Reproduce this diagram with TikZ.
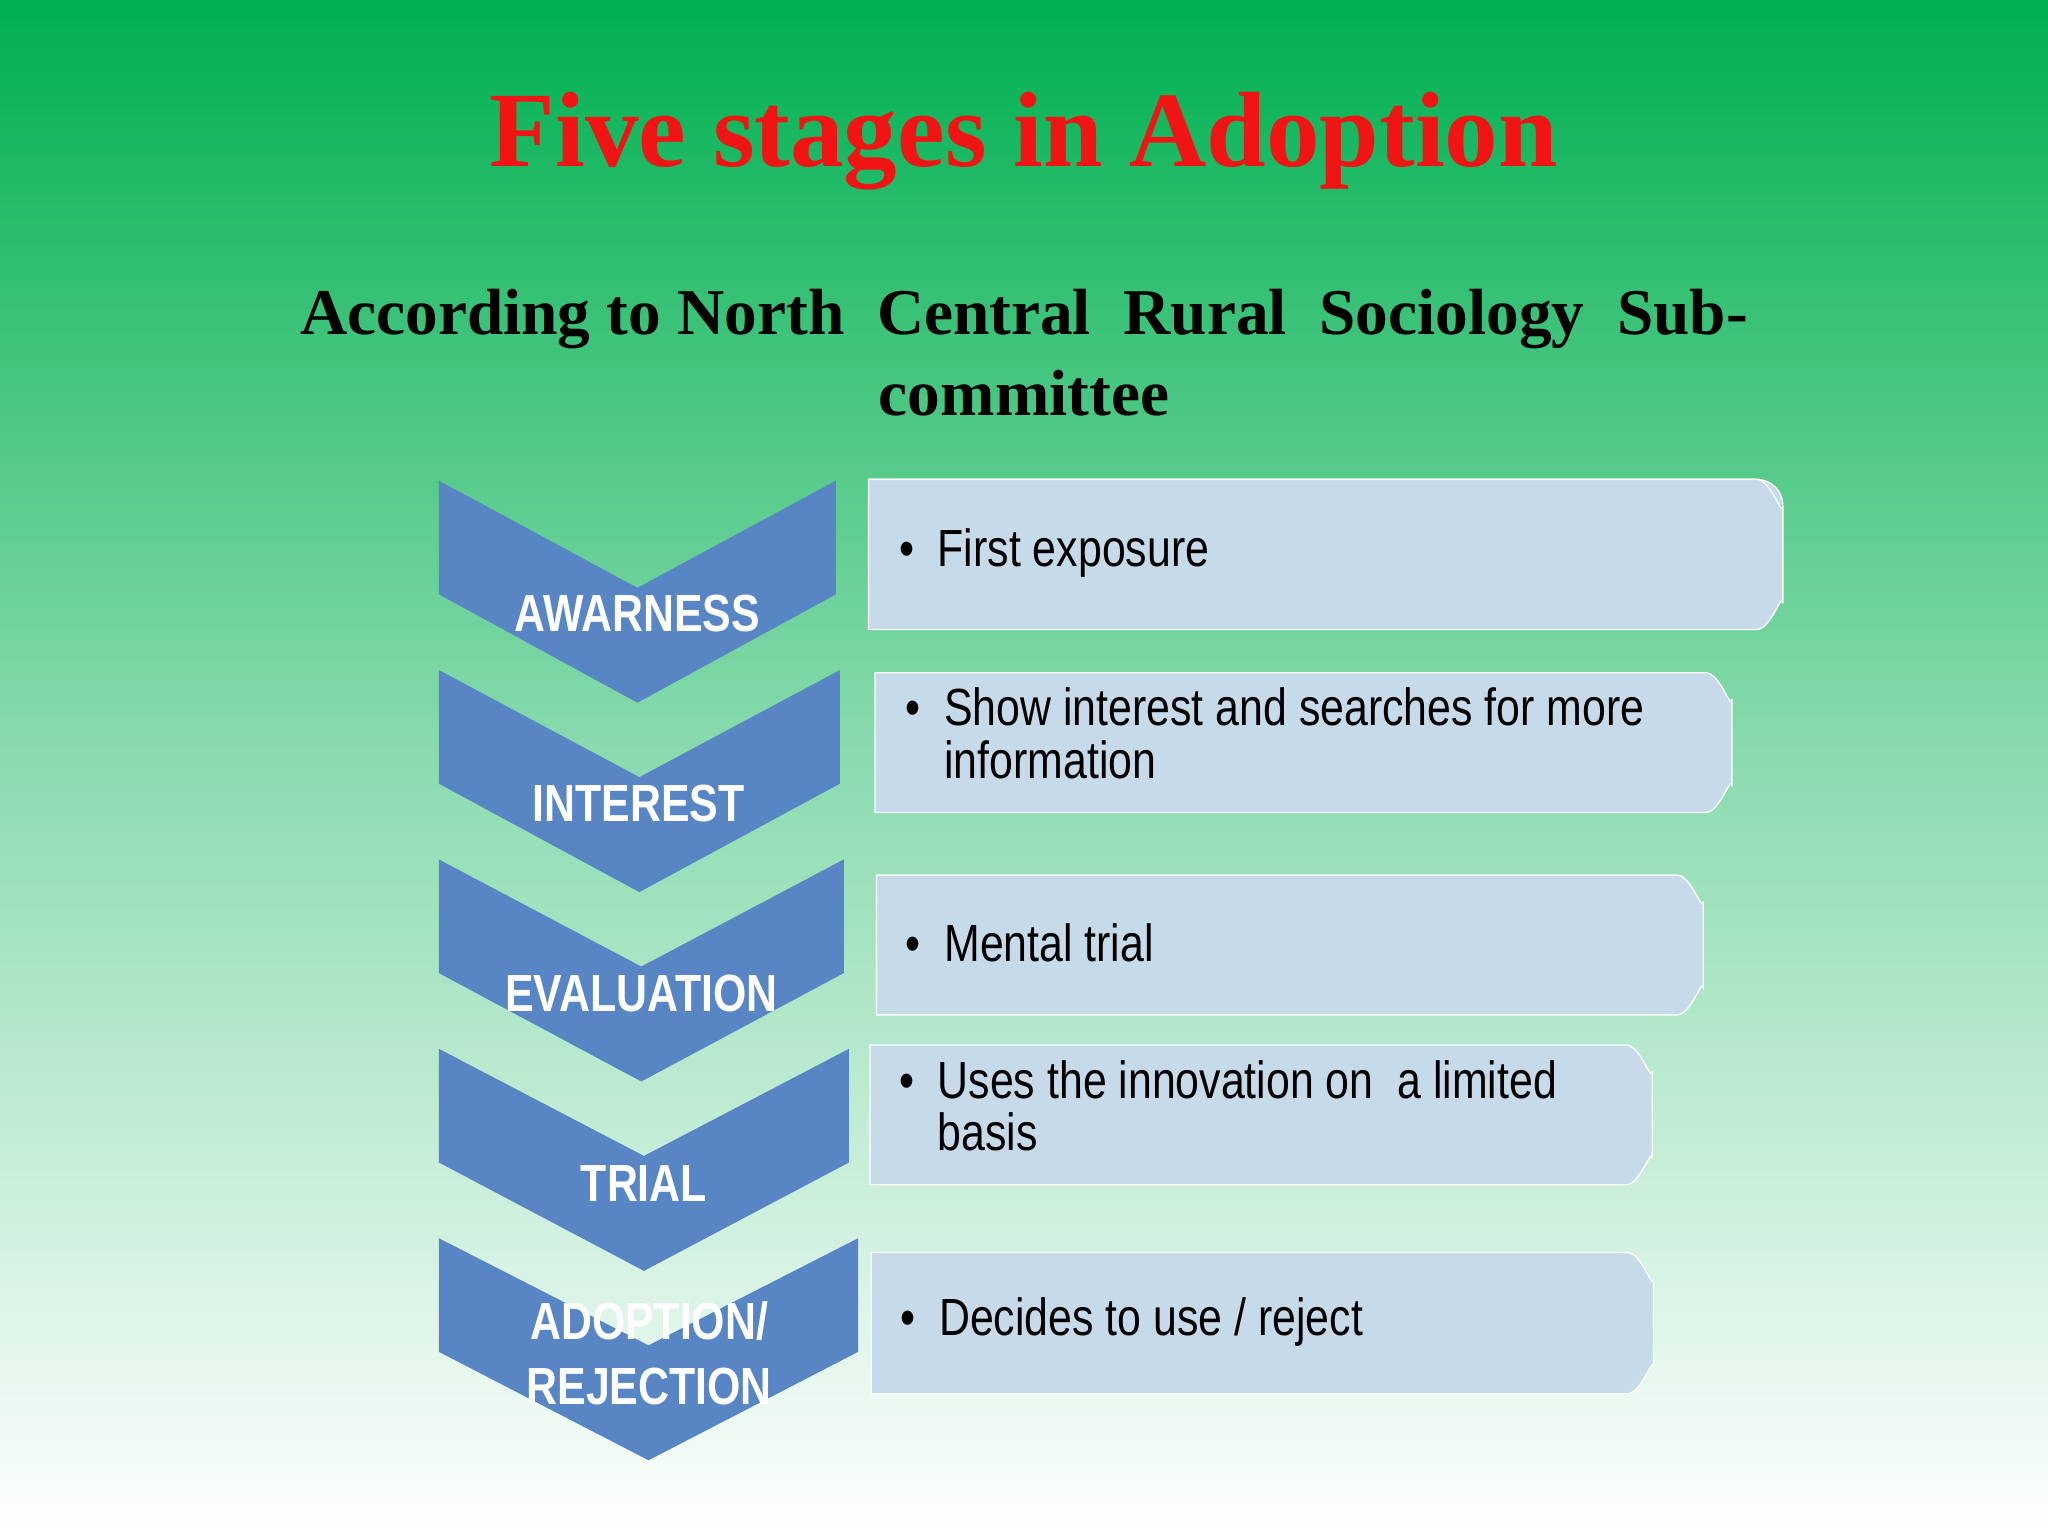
\documentclass[tikz,border=0pt]{standalone}
\usepackage{fontspec}
\setmainfont{Liberation Serif}
\newfontfamily\narrow[FakeStretch=0.82]{Liberation Sans}
\definecolor{chev}{RGB}{88,133,196}
\definecolor{boxc}{RGB}{198,218,234}
\definecolor{topg}{RGB}{0,176,80}
\definecolor{ttl}{RGB}{240,20,20}
\begin{document}
\begin{tikzpicture}[x=1pt,y=-1pt,
 chv/.style={fill=chev},
 bx/.style={fill=boxc,draw=white,line width=1pt},
 lab/.style={text=white,font=\narrow\bfseries\fontsize{40}{44}\selectfont},
 btx/.style={anchor=west,align=left,text=black,font=\narrow\fontsize{40}{44}\selectfont}]
\shade[top color=topg,bottom color=white,middle color=topg!45!white] (0,0) rectangle (1568,1176);
\useasboundingbox (0,0) rectangle (1568,1176);
\node[text=ttl,font=\bfseries\fontsize{82}{90}\selectfont] (t) at (784,108) {Five stages in Adoption};
\node[font=\bfseries\fontsize{50}{62}\selectfont,align=center] (s) at (784,270) {According to North\ \ Central\ \ Rural\ \ Sociology\ \ Sub-\\committee};
\foreach \i/\r in {0/640,1/643,2/646,3/650,4/657}{
 \pgfmathsetmacro\yy{368+145*\i}
 \pgfmathsetmacro\mx{(336+\r)/2}
 \fill[chv] (336,\yy) -- (\mx,\yy+82) -- (\r,\yy) -- (\r,\yy+87) -- (\mx,\yy+170) -- (336,\yy+87) -- cycle;
}
\node[lab] (l1) at (488,470) {AWARNESS};
\node[lab] (l2) at (489,615) {INTEREST};
\node[lab] (l3) at (491,761) {EVALUATION};
\node[lab] (l4) at (493,906) {TRIAL};
\node[lab,align=center] (l5) at (497,1036) {ADOPTION/\\[6pt]REJECTION};
\path[bx,rounded corners=0pt] (665,367) -- (1345,367) arc[start angle=-90,end angle=0,radius=20] ;
\draw[bx] (665,367) -- (1345,367) to[out=0,in=-90] (1365,387) -- (1365,462) to[out=90,in=0] (1345,482) -- (665,482) -- cycle;
\draw[bx] (670,515) -- (1306,515) to[out=0,in=-90] (1326,535) -- (1326,602) to[out=90,in=0] (1306,622) -- (670,622) -- cycle;
\draw[bx] (671,670) -- (1284,670) to[out=0,in=-90] (1304,690) -- (1304,757) to[out=90,in=0] (1284,777) -- (671,777) -- cycle;
\draw[bx] (666,800) -- (1245,800) to[out=0,in=-90] (1265,820) -- (1265,887) to[out=90,in=0] (1245,907) -- (666,907) -- cycle;
\draw[bx] (667,959) -- (1246,959) to[out=0,in=-90] (1266,979) -- (1266,1047) to[out=90,in=0] (1246,1067) -- (667,1067) -- cycle;
\node[btx] (b1) at (685,423) {\textbullet\hspace{18pt}First exposure};
\node[btx] (b2) at (690,567) {\textbullet\hspace{18pt}\begin{tabular}[t]{@{}l@{}}Show interest and searches for more\\[-4pt]information\end{tabular}};
\node[btx] (b3) at (690,722) {\textbullet\hspace{18pt}Mental trial};
\node[btx] (b4) at (685,852) {\textbullet\hspace{18pt}\begin{tabular}[t]{@{}l@{}}Uses the innovation on\ \ a limited\\[-4pt]basis\end{tabular}};
\node[btx] (b5) at (686,1012) {\textbullet\hspace{18pt}Decides to use / reject};
\end{tikzpicture}
\end{document}
